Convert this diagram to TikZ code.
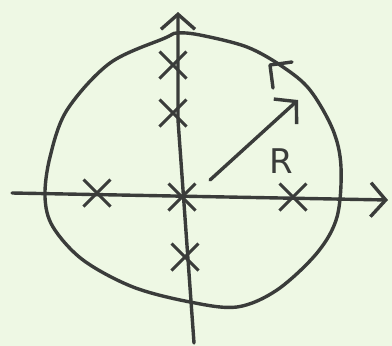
\documentclass[tikz,border=0pt]{standalone}
\usepackage{fontspec}
\setmainfont{DejaVu Sans}
\usetikzlibrary{shapes.misc,arrows.meta}
\definecolor{bg}{RGB}{238,248,228}
\definecolor{ink}{RGB}{58,60,58}
\tikzset{
  stroke/.style={draw=ink,line width=3.4pt,line cap=round,line join=round},
  pole/.style={cross out,draw=ink,line width=3pt,minimum size=24pt,inner sep=0pt},
  hand/.style={-{Straight Barb[length=15pt,width=34pt,line width=3.4pt]}}
}
\begin{document}
\begin{tikzpicture}[x=1pt,y=-1pt]
\useasboundingbox (0,0) rectangle (392,346);
\fill[bg] (0,0) rectangle (392,346);
% axes
\coordinate (xl) at (12,193);
\coordinate (xr) at (388,200);
\coordinate (yb) at (194,343);
\coordinate (yt) at (178,12);
\draw[stroke,hand] (xl) -- (xr);
\draw[stroke,hand] (yb) -- (178,120) -- (yt);
% contour
\draw[stroke] plot[smooth cycle,tension=0.55] coordinates {
 (177,33) (200,35) (247,47) (283,67) (310,90) (333,130) (341,167)
 (337,217) (317,253) (277,290) (237,307) (190,302) (133,287)
 (83,260) (53,227) (45,197) (50,157) (67,110) (110,63) (165,38)};
% direction arrow on contour
\coordinate (dt) at (270,65);
\draw[stroke] (292,62) -- (dt) -- (273,88);
% radius arrow
\coordinate (ra) at (210,180);
\coordinate (rb) at (298,100);
\draw[stroke,hand] (ra) -- (rb);
\node[text=ink] (R) at (281,161) {\fontsize{34}{34}\selectfont R};
% poles
\node[pole] (p1) at (173,65) {};
\node[pole] (p2) at (173,113) {};
\node[pole] (p3) at (97,193) {};
\node[pole] (p4) at (182,197) {};
\node[pole] (p5) at (293,197) {};
\node[pole] (p6) at (185,257) {};
\end{tikzpicture}
\end{document}
